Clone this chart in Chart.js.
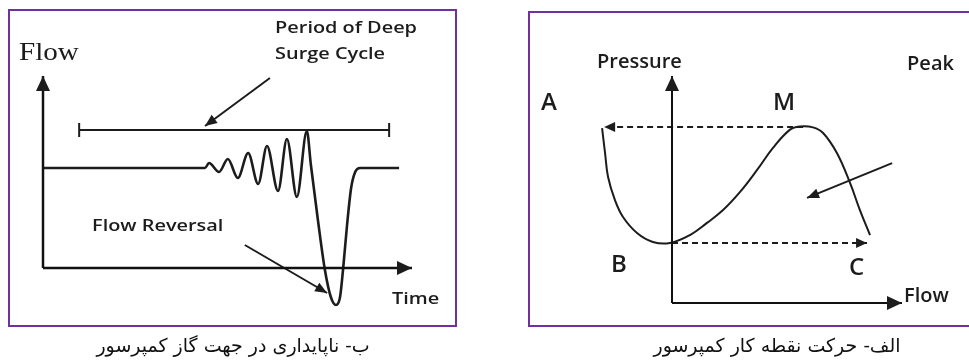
<!DOCTYPE html>
<html>
<head>
<meta charset="utf-8">
<script src="https://cdn.jsdelivr.net/npm/chart.js@4/dist/chart.umd.min.js"></script>
<style>
  html, body { margin: 0; padding: 0; background: #fff; }
  #page { position: relative; width: 969px; height: 363px; overflow: hidden; }
  .box { position: absolute; box-sizing: border-box; border: 2px solid #7030a0; }
  canvas { position: absolute; top: 0; }
  .caption { position: absolute; width: 400px; text-align: center; font-family: "DejaVu Serif", "DejaVu Sans", serif; font-size: 19px; color: #111; }
</style>
</head>
<body>
<div id="page">
  <div class="box" style="left:8px; top:9px; width:449px; height:318px;"></div>
  <div class="box" style="left:528px; top:11px; width:460px; height:316px;"></div>
  <canvas id="surge-chart" width="484" height="363" style="left:0"></canvas>
  <canvas id="map-chart" width="485" height="363" style="left:484px"></canvas>
  <div class="caption" dir="rtl" style="left:33px; top:334px;">ب- ناپایداری در جهت گاز کمپرسور</div>
  <div class="caption" dir="rtl" style="left:577px; top:334px;">الف- حرکت نقطه کار کمپرسور</div>
</div>
<script>
  // ---- left panel: flow against time (deep surge)
  const surgeTime = [0, 43.9, 45.0, 47.7, 50.1, 52.8, 55.6, 58.3, 60.7, 63.7, 66.1, 68.8, 71.5, 72.6, 74.5, 76.4, 78.0, 79.4, 80.5, 81.3, 82.4, 83.5, 84.6, 85.9, 96.5];
  const surgeFlow = [1.0, 1.0, 1.05, 0.96, 1.09, 0.90, 1.15, 0.84, 1.22, 0.77, 1.29, 0.71, 1.37, 1.03, 0.48, -0.02, -0.29, -0.37, -0.29, -0.02, 0.43, 0.80, 0.96, 1.0, 1.0];
  const periodTime = [9.8, 93.8];
  const periodFlow = [1.38, 1.38];
  const periodTickFlow = [1.31, 1.45];
  const periodArrowTime = [61.5, 43.9];
  const periodArrowFlow = [1.90, 1.42];
  const reversalArrowTime = [54.7, 77.0];
  const reversalArrowFlow = [0.23, -0.25];
  const timeAxisTime = [0, 100];
  const flowAxisFlow = [0, 1.92];
  const surgeLabels = ['Flow', 'Period of Deep', 'Surge Cycle', 'Flow Reversal', 'Time'];
  const surgeLabelTime = [-6.5, 62.9, 62.9, 13.3, 94.6];
  const surgeLabelFlow = [2.08, 2.35, 2.09, 0.37, -0.36];

  // ---- right panel: pressure against flow (operating point)
  const curveFlow = [-30.4, -29.1, -27.8, -24.8, -21.3, -15.2, -8.3, -0.9, 7.8, 15.2, 22.2, 29.6, 37.0, 43.9, 51.3, 55.5, 61.3, 65.7, 71.7, 77.4, 81.7, 86.1];
  const curvePressure = [99.4, 85.2, 71.6, 58.5, 48.9, 39.8, 34.7, 34.1, 38.6, 45.5, 52.8, 63.1, 75.6, 88.1, 98.5, 100.3, 99.8, 96.6, 85.2, 68.2, 52.8, 38.6];
  const topDashFlow = [57, -29.5];
  const topDashPressure = [100, 100];
  const bottomDashFlow = [0, 84.8];
  const bottomDashPressure = [34.1, 34.1];
  const pointerFlow = [95.7, 58.7];
  const pointerPressure = [79.5, 59.7];
  const mapXAxisFlow = [0, 100];
  const mapYAxisPressure = [0, 129];
  const mapLabels = ['Pressure', 'Peak', 'A', 'M', 'B', 'C', 'Flow'];
  const mapLabelFlow = [-32.6, 102.2, -57, 43.9, -26.5, 77, 100.9];
  const mapLabelPressure = [133.5, 132.4, 109.7, 109.7, 17.6, 15.9, 0.6];

  const INK = '#1c1c1c';
  const SANS = '"Open Sans", sans-serif';

  const toPoints = (xs, ys) => xs.map((x, i) => ({ x: x, y: ys[i] }));

  function line(xs, ys, extra) {
    return Object.assign({
      data: toPoints(xs, ys),
      showLine: true,
      pointRadius: 0,
      borderColor: INK,
      borderWidth: 2,
      fill: false,
      tension: 0
    }, extra || {});
  }

  // arrow heads and free text, placed through the chart scales
  const diagramPlugin = {
    id: 'diagram',
    afterDatasetsDraw(chart, args, opts) {
      const ctx = chart.ctx;
      const xs = chart.scales.x;
      const ys = chart.scales.y;

      chart.data.datasets.forEach(ds => {
        if (!ds.arrow) return;
        const pts = ds.data;
        const a = pts[pts.length - 2];
        const b = pts[pts.length - 1];
        const x1 = xs.getPixelForValue(a.x), y1 = ys.getPixelForValue(a.y);
        const x2 = xs.getPixelForValue(b.x), y2 = ys.getPixelForValue(b.y);
        const ang = Math.atan2(y2 - y1, x2 - x1);
        const len = ds.arrow.len, half = ds.arrow.half;
        ctx.save();
        ctx.fillStyle = INK;
        ctx.beginPath();
        ctx.moveTo(x2, y2);
        ctx.lineTo(x2 - len * Math.cos(ang) + half * Math.sin(ang), y2 - len * Math.sin(ang) - half * Math.cos(ang));
        ctx.lineTo(x2 - len * Math.cos(ang) - half * Math.sin(ang), y2 - len * Math.sin(ang) + half * Math.cos(ang));
        ctx.closePath();
        ctx.fill();
        ctx.restore();
      });

      opts.labels.forEach(l => {
        ctx.save();
        ctx.fillStyle = INK;
        ctx.textAlign = 'left';
        ctx.textBaseline = 'alphabetic';
        ctx.font = l.font;
        // the source image is a little wider than tall, so text gets stretched too
        ctx.translate(xs.getPixelForValue(l.x), ys.getPixelForValue(l.y));
        ctx.scale(l.stretch, 1);
        ctx.fillText(l.text, 0, 0);
        ctx.restore();
      });
    }
  };

  function baseOptions(xMin, xMax, yMin, yMax, labels) {
    return {
      responsive: false,
      animation: false,
      devicePixelRatio: 1,
      layout: { padding: 0 },
      scales: {
        x: { type: 'linear', min: xMin, max: xMax, display: false },
        y: { type: 'linear', min: yMin, max: yMax, display: false }
      },
      plugins: {
        legend: { display: false },
        tooltip: { enabled: false },
        diagram: { labels: labels }
      }
    };
  }

  const surgeFonts = ['26px "Liberation Serif", serif', '600 17px ' + SANS, '600 17px ' + SANS, '600 17px ' + SANS, '600 17px ' + SANS];
  const surgeLabelDefs = surgeLabels.map((text, i) => ({
    text: text, x: surgeLabelTime[i], y: surgeLabelFlow[i], font: surgeFonts[i], stretch: i === 0 ? 1.12 : 1.17
  }));

  new Chart(document.getElementById('surge-chart').getContext('2d'), {
    type: 'scatter',
    data: {
      datasets: [
        line([0, 0], flowAxisFlow, { borderColor: '#111', borderWidth: 2.5, arrow: { len: 15, half: 7 } }),
        line(timeAxisTime, [0, 0], { borderColor: '#111', borderWidth: 2.5, arrow: { len: 15, half: 7 } }),
        line(periodTime, periodFlow),
        line([periodTime[0], periodTime[0]], periodTickFlow),
        line([periodTime[1], periodTime[1]], periodTickFlow),
        line(periodArrowTime, periodArrowFlow, { arrow: { len: 12, half: 5 } }),
        line(reversalArrowTime, reversalArrowFlow, { arrow: { len: 12, half: 5 } }),
        line(surgeTime, surgeFlow, { cubicInterpolationMode: 'monotone', borderWidth: 2.6 })
      ]
    },
    options: baseOptions(-11.653, 119.51, -0.95, 2.68, surgeLabelDefs),
    plugins: [diagramPlugin]
  });

  const mapFonts = ['600 20px ' + SANS, '600 20px ' + SANS, '600 24px ' + SANS, '600 24px ' + SANS, '600 24px ' + SANS, '600 24px ' + SANS, '600 20px ' + SANS];
  const mapLabelDefs = mapLabels.map((text, i) => ({
    text: text, x: mapLabelFlow[i], y: mapLabelPressure[i], font: mapFonts[i], stretch: 1
  }));

  new Chart(document.getElementById('map-chart').getContext('2d'), {
    type: 'scatter',
    data: {
      datasets: [
        line([0, 0], mapYAxisPressure, { borderColor: '#111', arrow: { len: 15, half: 7 } }),
        line(mapXAxisFlow, [0, 0], { borderColor: '#111', arrow: { len: 15, half: 7 } }),
        line(topDashFlow, topDashPressure, { borderDash: [6, 4], arrow: { len: 11, half: 5 } }),
        line(bottomDashFlow, bottomDashPressure, { borderDash: [6, 4], arrow: { len: 11, half: 5 } }),
        line(pointerFlow, pointerPressure, { arrow: { len: 12, half: 5 } }),
        line(curveFlow, curvePressure, { tension: 0.4 })
      ]
    },
    options: baseOptions(-81.739, 129.13, -34.09, 172.16, mapLabelDefs),
    plugins: [diagramPlugin]
  });
</script>
</body>
</html>
